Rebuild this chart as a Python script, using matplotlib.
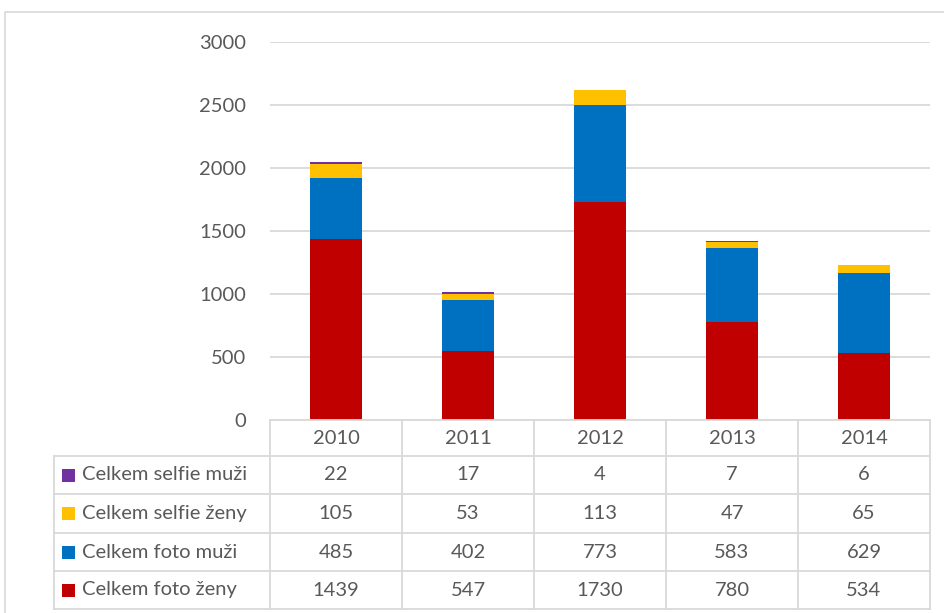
import matplotlib
matplotlib.use("Agg")
import matplotlib.pyplot as plt
from matplotlib.patches import Rectangle
from matplotlib.lines import Line2D
import numpy as np

years = ["2010", "2011", "2012", "2013", "2014"]
foto_zeny = [1439, 547, 1730, 780, 534]
foto_muzi = [485, 402, 773, 583, 629]
selfie_zeny = [105, 53, 113, 47, 65]
selfie_muzi = [22, 17, 4, 7, 6]
series_names = ["Celkem foto ženy", "Celkem foto muži", "Celkem selfie ženy", "Celkem selfie muži"]
series_vals = [foto_zeny, foto_muzi, selfie_zeny, selfie_muzi]
colors = ["#C00000", "#0070C0", "#FFC000", "#7030A0"]
yticks = [0, 500, 1000, 1500, 2000, 2500, 3000]

W, H = 944, 613
fig = plt.figure(figsize=(W / 100, H / 100), dpi=100)
FONT = "Lato"
FS = 14.5
TXT = "#595959"
GRID = "#D9D9D9"

def fx(px):
    return px / W

def fy(py):
    return 1 - py / H

# outer chart border
fig.add_artist(Rectangle((fx(5), fy(640)), fx(960) - fx(5), fy(12) - fy(640),
                         transform=fig.transFigure, fill=False, edgecolor=GRID, lw=1.2))

ax_l, ax_r, ax_t, ax_b = 270, 930, 42, 420
ax = fig.add_axes([fx(ax_l), fy(ax_b), fx(ax_r) - fx(ax_l), fy(ax_t) - fy(ax_b)])
n = len(years)
x = np.arange(n)
bottom = np.zeros(n)
for vals, c in zip(series_vals, colors):
    ax.bar(x, vals, width=0.4, bottom=bottom, color=c, zorder=3)
    bottom += np.array(vals)
ax.set_xlim(-0.5, n - 0.5)
ax.set_ylim(0, 3000)
ax.set_yticks(yticks)
ax.set_yticklabels([str(t) for t in yticks], fontsize=FS, color=TXT, family=FONT)
ax.tick_params(axis="y", length=0, pad=17)
ax.set_xticks([])
for s in ax.spines.values():
    s.set_visible(False)
ax.grid(axis="y", color=GRID, lw=1.3, zorder=0)
ax.set_axisbelow(True)

# data table
col_edges = [ax_l + (ax_r - ax_l) * i / n for i in range(n + 1)]
row_edges = [420, 456, 494, 533, 571, 609]
tl = 54

def hline(y, x0, x1):
    fig.add_artist(Line2D([fx(x0), fx(x1)], [fy(y), fy(y)], color=GRID, lw=1.3,
                          transform=fig.transFigure))

def vline(xp, y0, y1):
    fig.add_artist(Line2D([fx(xp), fx(xp)], [fy(y0), fy(y1)], color=GRID, lw=1.3,
                          transform=fig.transFigure))

hline(row_edges[0], ax_l, ax_r)
for y in row_edges[1:]:
    hline(y, tl, ax_r)
for xp in col_edges:
    vline(xp, row_edges[0], row_edges[-1])
vline(tl, row_edges[1], row_edges[-1])

for i, yr in enumerate(years):
    cx = (col_edges[i] + col_edges[i + 1]) / 2
    cy = (row_edges[0] + row_edges[1]) / 2
    fig.text(fx(cx), fy(cy), yr, ha="center", va="center", fontsize=FS, color=TXT, family=FONT)

order = [3, 2, 1, 0]
for r, si in enumerate(order):
    cy = (row_edges[r + 1] + row_edges[r + 2]) / 2
    sq = 13
    fig.add_artist(Rectangle((fx(62), fy(cy + sq / 2)), fx(sq), sq / H,
                             transform=fig.transFigure, color=colors[si], lw=0))
    fig.text(fx(82), fy(cy), series_names[si], ha="left", va="center", fontsize=FS,
             color=TXT, family=FONT)
    for i in range(n):
        cx = (col_edges[i] + col_edges[i + 1]) / 2
        fig.text(fx(cx), fy(cy), str(series_vals[si][i]), ha="center", va="center",
                 fontsize=FS, color=TXT, family=FONT)

fig.savefig("out.png", dpi=100, facecolor="white")
